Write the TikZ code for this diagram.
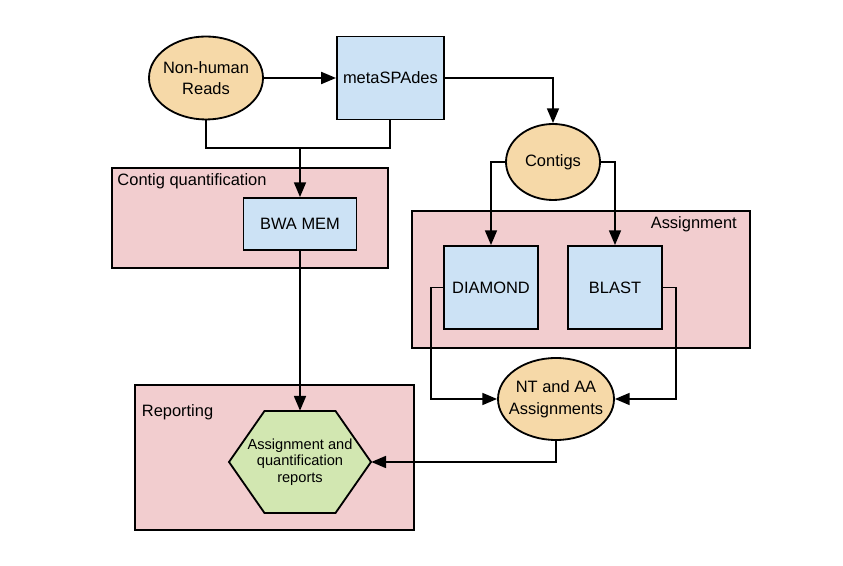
\documentclass[tikz,border=0pt]{standalone}
\usepackage{fontspec}
\setmainfont{Liberation Sans}
\usetikzlibrary{arrows.meta, shapes.geometric, positioning}

\definecolor{dataorange}{HTML}{F6D9A8}
\definecolor{toolblue}{HTML}{CCE2F5}
\definecolor{grouppink}{HTML}{F2CDCF}
\definecolor{reportgreen}{HTML}{D2E7B1}

\tikzset{
    datum/.style={ellipse, draw, line width=1.3pt, fill=dataorange, inner sep=0pt,
        align=center, font=\fontsize{11.7}{15.4}\selectfont},
    tool/.style={rectangle, draw, line width=1.3pt, fill=toolblue, inner sep=0pt,
        align=center, font=\fontsize{11.7}{15.4}\selectfont},
    group/.style={rectangle, draw, line width=1.3pt, fill=grouppink, inner sep=0pt},
    grouplabel/.style={inner sep=0pt, font=\fontsize{11.7}{14}\selectfont},
    link/.style={line width=1.3pt},
    flow/.style={line width=1.3pt, -{Triangle[length=10.5pt, width=8.5pt]}}
}

\begin{document}
\begin{tikzpicture}
    \useasboundingbox (0,0) rectangle (21.075,14.15);

    % Grupos
    \node[group, minimum width=6.9cm, minimum height=2.5cm] (quant) at (6.25,8.7) {};
    \node[grouplabel, anchor=west] (quantlabel) at (2.93,9.63) {Contig quantification};

    \node[group, minimum width=8.45cm, minimum height=3.425cm] (assign) at (14.525,7.1625) {};
    \node[grouplabel, anchor=east] (assignlabel) at (18.425,8.55) {Assignment};

    \node[group, minimum width=6.975cm, minimum height=3.625cm] (report) at (6.8625,2.7125) {};
    \node[grouplabel, anchor=west] (reportlabel) at (3.54,3.85) {Reporting};

    % Dados e ferramentas
    \node[datum, inner xsep=-0.15cm, minimum width=2.85cm, minimum height=2.075cm] (reads) at (5.15,12.2) {Non-human\\Reads};
    \node[tool, minimum width=2.675cm, minimum height=2.075cm] (meta) at (9.76,12.2) {metaSPAdes};
    \node[datum, minimum width=2.35cm, minimum height=1.9cm] (contigs) at (13.825,10.1) {Contigs};
    \node[tool, minimum width=2.825cm, minimum height=1.3cm] (bwa) at (7.5,8.55) {BWA MEM};
    \node[tool, minimum width=2.35cm, minimum height=2.075cm] (diamond) at (12.275,6.9625) {DIAMOND};
    \node[tool, minimum width=2.35cm, minimum height=2.075cm] (blast) at (15.375,6.9625) {BLAST};
    \node[datum, inner xsep=-0.18cm, minimum width=2.9cm, minimum height=2.05cm] (nt) at (13.9,4.175) {NT and AA\\Assignments};

    % Hexagono do relatorio
    \coordinate (hexc) at (7.5,2.6);
    \draw[line width=1.3pt, fill=reportgreen] ([xshift=-1.775cm]hexc) -- ++(0.8875,1.275) -- ++(1.775,0)
        -- ++(0.8875,-1.275) -- ++(-0.8875,-1.275) -- ++(-1.775,0) -- cycle;
    \node[inner sep=0pt, minimum width=3.55cm, minimum height=2.55cm, align=center,
        font=\fontsize{10.4}{11.8}\selectfont] (hex) at (hexc) {Assignment and\\quantification\\reports};

    % Conexoes
    \coordinate (join) at (7.5,10.45);
    \draw[flow] (reads.east) -- (meta.west);
    \draw[flow] (meta.east) -| (contigs.north);
    \draw[link] (reads.south) |- (join) -| (meta.south);
    \draw[flow] (join) -- (bwa.north);
    \draw[flow] (bwa.south) -- (hex.north);
    \draw[flow] (contigs.west) -| (diamond.north);
    \draw[flow] (contigs.east) -| (blast.north);
    \draw[flow] (diamond.west) -- ++(-0.3,0) |- (nt.west);
    \draw[flow] (blast.east) -- ++(0.325,0) |- (nt.east);
    \draw[flow] (nt.south) |- (hex.east);

\end{tikzpicture}
\end{document}
